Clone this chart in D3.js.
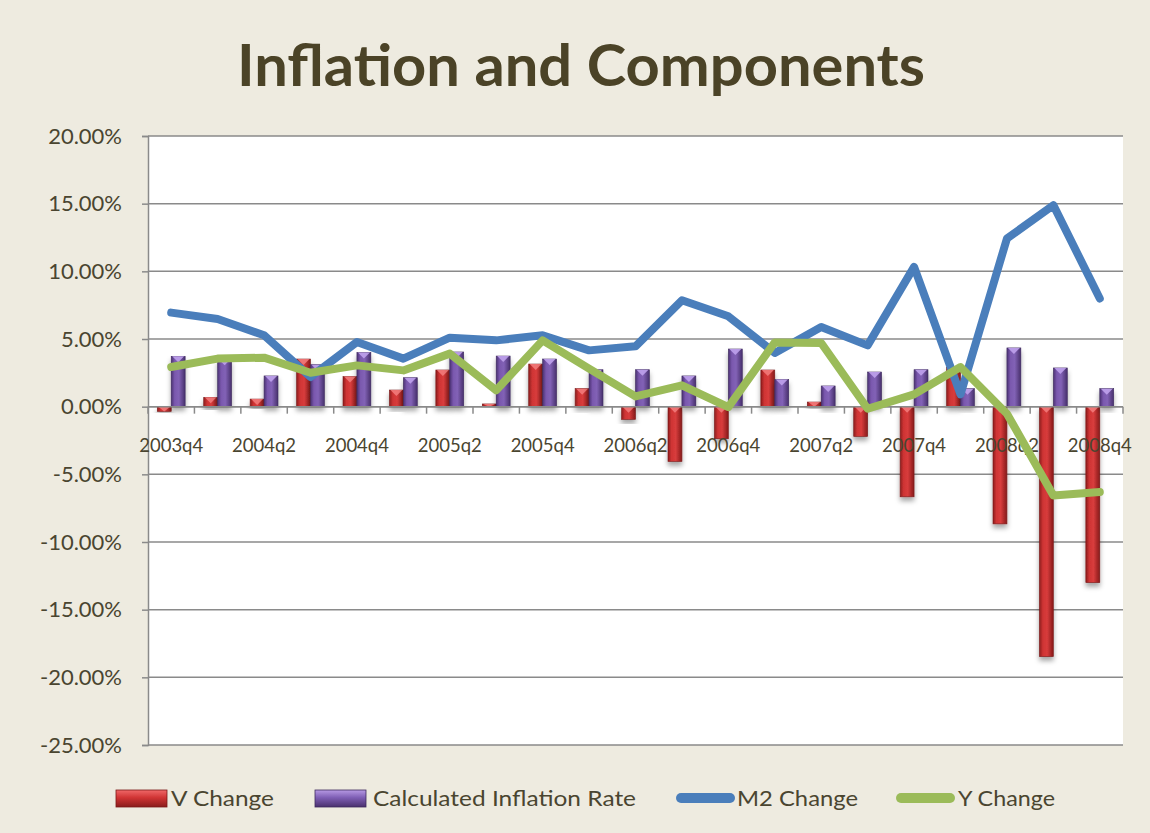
<!DOCTYPE html>
<html lang="en">
<head>
<meta charset="UTF-8">
<title>Inflation and Components</title>
<style>
  body { margin: 0; background: #EEEBE0; }
  svg { display: block; }
</style>
</head>
<body>
<script src="https://cdn.jsdelivr.net/npm/d3@7/dist/d3.min.js"></script>
<script>
  // quarters 2003q4 .. 2008q4
  var quarters = ["2003q4","2004q1","2004q2","2004q3","2004q4","2005q1","2005q2","2005q3","2005q4",
    "2006q1","2006q2","2006q3","2006q4","2007q1","2007q2","2007q3","2007q4","2008q1","2008q2","2008q3","2008q4"];
  var vChange = [-0.35, 0.69, 0.56, 3.52, 2.22, 1.23, 2.71, 0.2, 3.15, 1.33, -0.94, -4.05, -2.37, 2.71, 0.34,
    -2.2, -6.66, 2.9, -8.66, -18.47, -13.0];
  var inflation = [3.72, 3.5, 2.27, 3.1, 4.0, 2.14, 4.04, 3.74, 3.52, 2.73, 2.73, 2.27, 4.26, 2.0, 1.53,
    2.56, 2.73, 1.33, 4.34, 2.86, 1.33];
  var m2Change = [6.95, 6.48, 5.27, 2.19, 4.78, 3.55, 5.1, 4.9, 5.27, 4.16, 4.46, 7.86, 6.68, 3.97, 5.89,
    4.53, 10.33, 0.91, 12.42, 14.89, 7.99];
  var yChange = [2.93, 3.55, 3.62, 2.51, 3.05, 2.68, 3.92, 1.21, 4.9, 2.81, 0.76, 1.58, -0.03, 4.75, 4.7,
    -0.15, 0.91, 2.93, -0.52, -6.56, -6.31];
  var yTicks = [-25, -20, -15, -10, -5, 0, 5, 10, 15, 20];

  var width = 1150, height = 833;
  var plotLeft = 148, plotRight = 1123, plotTop = 136, plotBottom = 745;
  var textColor = "#4A4530";

  var svg = d3.select("body").append("svg")
    .attr("width", width)
    .attr("height", height);

  var defs = svg.append("defs");

  function barGradient(id, stops) {
    var g = defs.append("linearGradient").attr("id", id)
      .attr("x1", "0%").attr("x2", "100%").attr("y1", "0%").attr("y2", "0%");
    stops.forEach(function (s) {
      g.append("stop").attr("offset", s[0]).attr("stop-color", s[1]);
    });
  }
  barGradient("redGrad", [["0%", "#8E1E1E"], ["25%", "#CF3434"], ["55%", "#D83C3C"], ["100%", "#861A1A"]]);
  barGradient("purpleGrad", [["0%", "#4C3274"], ["25%", "#7A58AE"], ["55%", "#8262B6"], ["100%", "#47306C"]]);

  function swatchGradient(id, c1, c2, c3) {
    var g = defs.append("linearGradient").attr("id", id)
      .attr("x1", "0%").attr("x2", "0%").attr("y1", "0%").attr("y2", "100%");
    g.append("stop").attr("offset", "0%").attr("stop-color", c1);
    g.append("stop").attr("offset", "45%").attr("stop-color", c2);
    g.append("stop").attr("offset", "100%").attr("stop-color", c3);
  }
  swatchGradient("redSwatch", "#F06868", "#D03434", "#8A1C1C");
  swatchGradient("purpleSwatch", "#B79AE4", "#7E5EB4", "#4A306E");

  var shadow = defs.append("filter").attr("id", "shadow")
    .attr("x", "-50%").attr("y", "-20%").attr("width", "200%").attr("height", "150%");
  shadow.append("feDropShadow").attr("dx", 0).attr("dy", 4).attr("stdDeviation", 2.5)
    .attr("flood-color", "#000").attr("flood-opacity", 0.35);

  // title
  svg.append("text")
    .attr("x", 581).attr("y", 86)
    .attr("text-anchor", "middle")
    .attr("font-family", "Lato, 'Open Sans', sans-serif")
    .attr("font-weight", "bold")
    .attr("font-size", 58)
    .attr("fill", "#4B4327")
    .attr("textLength", 688)
    .attr("lengthAdjust", "spacingAndGlyphs")
    .text("Inflation and Components");

  // plot area
  svg.append("rect")
    .attr("x", plotLeft).attr("y", plotTop)
    .attr("width", plotRight - plotLeft).attr("height", plotBottom - plotTop)
    .attr("fill", "#fff");

  var x = d3.scaleBand().domain(quarters).range([plotLeft, plotRight]).padding(0);
  var bw = x.bandwidth();
  var x1 = d3.scaleBand().domain(["v", "inf"]).range([bw * 0.2, bw * 0.8]).padding(0);
  var y = d3.scaleLinear().domain([-25, 20]).range([plotBottom, plotTop]);

  // gridlines
  svg.append("g").selectAll("line")
    .data(yTicks)
    .enter().append("line")
    .attr("x1", plotLeft).attr("x2", plotRight)
    .attr("y1", function (d) { return y(d); })
    .attr("y2", function (d) { return y(d); })
    .attr("stroke", "#8A8A8A")
    .attr("stroke-width", 1.5);

  // y axis
  var yAxis = d3.axisLeft(y).tickValues(yTicks).tickSize(6).tickPadding(20)
    .tickFormat(function (d) { return d.toFixed(2) + "%"; });
  var gy = svg.append("g").attr("transform", "translate(" + plotLeft + ",0)").call(yAxis);
  gy.select(".domain").attr("stroke", "#8A8A8A").attr("stroke-width", 1.5);
  gy.selectAll(".tick line").attr("stroke", "#8A8A8A").attr("stroke-width", 1.5);
  gy.selectAll("text")
    .attr("font-family", "Lato, sans-serif")
    .attr("font-size", 22)
    .attr("fill", textColor);

  // bars
  var barData = [];
  quarters.forEach(function (q, i) {
    barData.push({ q: q, key: "v", value: vChange[i] });
    barData.push({ q: q, key: "inf", value: inflation[i] });
  });

  var bars = svg.append("g").selectAll("g")
    .data(barData)
    .enter().append("g")
    .attr("transform", function (d) { return "translate(" + (x(d.q) + x1(d.key)) + ",0)"; });

  var w = x1.bandwidth();
  bars.append("rect")
    .attr("x", 0)
    .attr("width", w)
    .attr("y", function (d) { return y(Math.max(0, d.value)); })
    .attr("height", function (d) { return Math.abs(y(d.value) - y(0)); })
    .attr("fill", function (d) { return d.key === "v" ? "url(#redGrad)" : "url(#purpleGrad)"; })
    .attr("stroke", function (d) { return d.key === "v" ? "#7A1818" : "#3E2A5E"; })
    .attr("stroke-width", 0.6)
    .attr("filter", "url(#shadow)");

  // bevel highlight at the top of each bar
  bars.append("path")
    .attr("d", function (d) {
      var y0 = y(Math.max(0, d.value));
      var h = Math.min(6, Math.abs(y(d.value) - y(0)));
      return "M1," + y0 + "L" + (w - 1) + "," + y0 + "L" + (w / 2) + "," + (y0 + h) + "Z";
    })
    .attr("fill", function (d) { return d.key === "v" ? "#F27A7A" : "#BFA2EC"; })
    .attr("opacity", 0.9);

  // x axis line and ticks
  var gx = svg.append("g");
  gx.append("line")
    .attr("x1", plotLeft).attr("x2", plotRight)
    .attr("y1", y(0)).attr("y2", y(0))
    .attr("stroke", "#8A8A8A").attr("stroke-width", 1.5);
  var bounds = quarters.map(function (q) { return x(q); }).concat([plotRight]);
  gx.selectAll(".xt")
    .data(bounds)
    .enter().append("line")
    .attr("x1", function (d) { return d; }).attr("x2", function (d) { return d; })
    .attr("y1", y(0)).attr("y2", y(0) + 7)
    .attr("stroke", "#8A8A8A").attr("stroke-width", 1.5);

  gx.selectAll(".xl")
    .data(quarters.filter(function (q, i) { return i % 2 === 0; }))
    .enter().append("text")
    .attr("x", function (d) { return x(d) + bw / 2; })
    .attr("y", 452)
    .attr("text-anchor", "middle")
    .attr("font-family", "Lato, sans-serif")
    .attr("font-size", 20)
    .attr("fill", textColor)
    .attr("textLength", 64)
    .attr("lengthAdjust", "spacingAndGlyphs")
    .text(function (d) { return d; });

  // lines
  var line = d3.line()
    .x(function (d, i) { return x(quarters[i]) + bw / 2; })
    .y(function (d) { return y(d); });

  svg.append("path")
    .datum(m2Change)
    .attr("d", line)
    .attr("fill", "none")
    .attr("stroke", "#4A7EBB")
    .attr("stroke-width", 8)
    .attr("stroke-linejoin", "round")
    .attr("stroke-linecap", "round");

  svg.append("path")
    .datum(yChange)
    .attr("d", line)
    .attr("fill", "none")
    .attr("stroke", "#9BBB59")
    .attr("stroke-width", 8)
    .attr("stroke-linejoin", "round")
    .attr("stroke-linecap", "round");

  // legend
  var legend = svg.append("g");
  var legendItems = [
    { name: "V Change", type: "bar", fill: "url(#redSwatch)", stroke: "#7A1818", x: 116, tx: 171, tw: 103 },
    { name: "Calculated Inflation Rate", type: "bar", fill: "url(#purpleSwatch)", stroke: "#3E2A5E", x: 315, tx: 373, tw: 263 },
    { name: "M2 Change", type: "line", color: "#4A7EBB", x: 676, tx: 737, tw: 121 },
    { name: "Y Change", type: "line", color: "#9BBB59", x: 896, tx: 958, tw: 97 }
  ];
  legendItems.forEach(function (d) {
    if (d.type === "bar") {
      legend.append("rect")
        .attr("x", d.x).attr("y", 790)
        .attr("width", 51).attr("height", 17)
        .attr("fill", d.fill)
        .attr("stroke", d.stroke).attr("stroke-width", 0.8);
    } else {
      legend.append("line")
        .attr("x1", d.x + 5).attr("x2", d.x + 54)
        .attr("y1", 798).attr("y2", 798)
        .attr("stroke", d.color)
        .attr("stroke-width", 10)
        .attr("stroke-linecap", "round");
    }
    legend.append("text")
      .attr("x", d.tx).attr("y", 806)
      .attr("font-family", "Lato, sans-serif")
      .attr("font-size", 22)
      .attr("fill", textColor)
      .attr("textLength", d.tw)
      .attr("lengthAdjust", "spacingAndGlyphs")
      .text(d.name);
  });
</script>
</body>
</html>
